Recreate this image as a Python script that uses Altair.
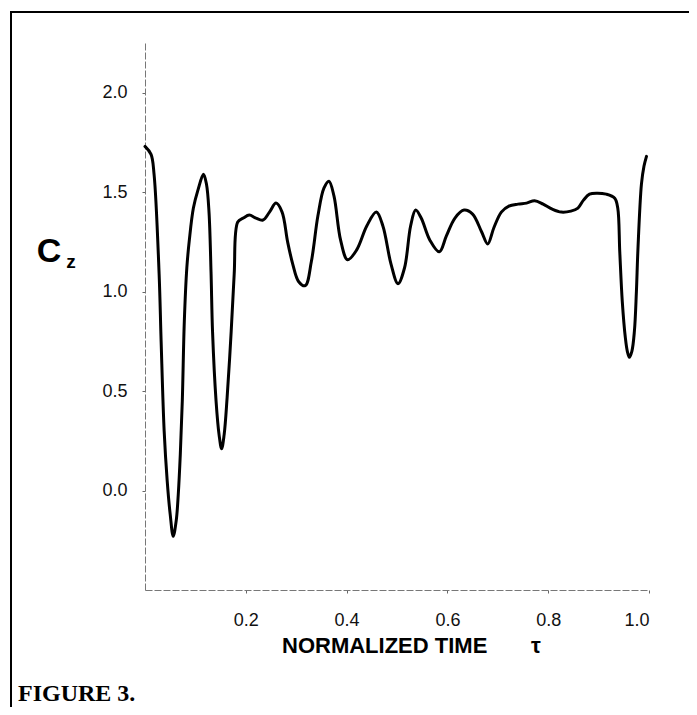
import altair as alt
import pandas as pd

# Normalized time tau and lift coefficient Cz
tau = [0.000, 0.012, 0.018, 0.028, 0.032, 0.038, 0.044, 0.050, 0.056, 0.062,
       0.066, 0.070, 0.074, 0.078, 0.083, 0.088, 0.096, 0.105, 0.116, 0.122,
       0.127, 0.131, 0.134, 0.141, 0.147, 0.152, 0.157, 0.163, 0.171, 0.177,
       0.184, 0.195, 0.207, 0.220, 0.234, 0.247, 0.260, 0.272,
       0.283, 0.293, 0.305, 0.318, 0.330, 0.343, 0.355, 0.365, 0.375, 0.388,
       0.402, 0.420, 0.440, 0.459, 0.472, 0.488, 0.502, 0.515, 0.527, 0.537,
       0.548, 0.565, 0.584, 0.598, 0.615, 0.633, 0.650, 0.668, 0.680, 0.692,
       0.707, 0.722, 0.740, 0.757, 0.773, 0.790, 0.808, 0.826, 0.845, 0.859,
       0.870, 0.882, 0.897, 0.915, 0.932, 0.938, 0.942, 0.947, 0.953, 0.957,
       0.961, 0.966, 0.971, 0.975, 0.978, 0.985, 0.990, 0.995]
cz = [1.73, 1.69, 1.59, 1.09, 0.75, 0.30, 0.05, -0.12, -0.23, -0.15,
      -0.02, 0.18, 0.45, 0.85, 1.12, 1.26, 1.42, 1.51, 1.59, 1.54,
      1.40, 1.10, 0.80, 0.45, 0.28, 0.21, 0.28, 0.47, 0.80, 1.09,
      1.35, 1.37, 1.385, 1.37, 1.36, 1.40, 1.445, 1.40,
      1.25, 1.14, 1.05, 1.03, 1.15, 1.38, 1.52, 1.555, 1.48, 1.26,
      1.16, 1.21, 1.33, 1.40, 1.33, 1.14, 1.04, 1.12, 1.33, 1.41,
      1.37, 1.26, 1.20, 1.28, 1.37, 1.41, 1.39, 1.30, 1.24, 1.32,
      1.40, 1.43, 1.44, 1.445, 1.457, 1.44, 1.415, 1.40, 1.405, 1.42,
      1.46, 1.49, 1.495, 1.49, 1.47, 1.42, 1.20, 0.95, 0.77, 0.70,
      0.67, 0.70, 0.80, 1.00, 1.21, 1.54, 1.63, 1.68]

x_ticks = [0.2, 0.4, 0.6, 0.8, 1.0]
y_ticks = [0.0, 0.5, 1.0, 1.5, 2.0]

df = pd.DataFrame({"tau": tau, "cz": cz})
one = pd.DataFrame({"k": [0]})

W, H = 504, 547
FONT = "Liberation Sans"

line = alt.Chart(df).mark_line(
    color="black", strokeWidth=3, interpolate="catmull-rom", strokeCap="round",
    strokeJoin="round"
).encode(
    x=alt.X("tau:Q", scale=alt.Scale(domain=[0, 1.0], nice=False, zero=False),
            axis=alt.Axis(values=x_ticks, format=".1f", title=None, grid=False,
                          labelFontSize=18, labelFont=FONT, labelColor="#111",
                          labelPadding=18, tickSize=3, tickColor="#666",
                          domainColor="#777", domainDash=[7, 2], domainWidth=1)),
    y=alt.Y("cz:Q", scale=alt.Scale(domain=[-0.5, 2.25], nice=False, zero=False),
            axis=alt.Axis(values=y_ticks, format=".1f", title=None, grid=False,
                          labelFontSize=18, labelFont=FONT, labelColor="#111",
                          labelPadding=15, tickSize=3, tickColor="#666",
                          domainColor="#777", domainDash=[7, 2], domainWidth=1)),
)

frame = alt.Chart(one).mark_rect(fill=None, stroke="black", strokeWidth=2).encode(
    x=alt.value(-134), x2=alt.value(545), y=alt.value(-31), y2=alt.value(700)
)

def label(text, x, y, size, weight="bold", align="center", font=FONT):
    return alt.Chart(one).mark_text(
        text=text, fontSize=size, fontWeight=weight, align=align,
        baseline="alphabetic", font=font, color="black"
    ).encode(x=alt.value(x), y=alt.value(y))

texts = [
    label("C", -96, 219, 34),
    label("z", -74, 225, 19),
    label("NORMALIZED TIME", 137, 610, 22, align="left"),
    label("τ", 391, 610, 22),
    label("FIGURE 3.", -127, 658, 24, align="left", font="Liberation Serif"),
]

chart = alt.layer(frame, line, *texts).properties(
    width=W, height=H,
    autosize=alt.AutoSizeParams(type="none"),
    padding={"left": 137, "top": 35, "right": 40, "bottom": 117},
    background="white",
).configure_view(stroke=None)

chart.save("out.html", embed_options={"renderer": "svg", "actions": False})
